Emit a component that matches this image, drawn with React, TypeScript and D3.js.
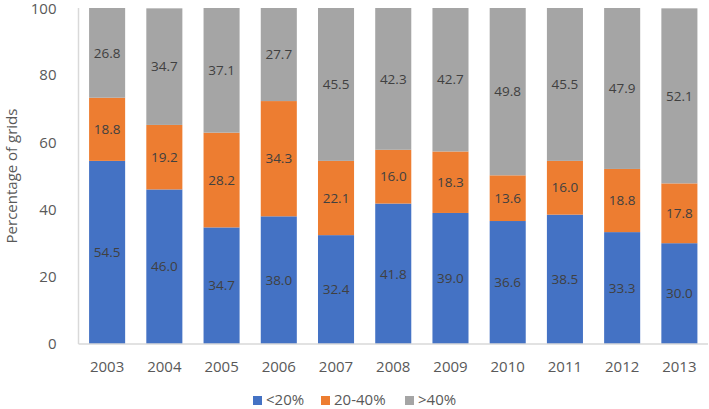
import React from "react";
import * as d3 from "d3";

const years = ["2003", "2004", "2005", "2006", "2007", "2008", "2009", "2010", "2011", "2012", "2013"];
const lowShare = [54.5, 46.0, 34.7, 38.0, 32.4, 41.8, 39.0, 36.6, 38.5, 33.3, 30.0];
const midShare = [18.8, 19.2, 28.2, 34.3, 22.1, 16.0, 18.3, 13.6, 16.0, 18.8, 17.8];
const highShare = [26.8, 34.7, 37.1, 27.7, 45.5, 42.3, 42.7, 49.8, 45.5, 47.9, 52.1];
const seriesNames = ["<20%", "20-40%", ">40%"];
const yTicks = [0, 20, 40, 60, 80, 100];

const colors = ["#4472C4", "#ED7D31", "#A5A5A5"];
const font = "'Open Sans', 'Noto Sans', sans-serif";

const W = 709;
const H = 409;
const margin = { top: 8, right: 1, bottom: 65, left: 78.5 };

const App: React.FC = () => {
  const rows = years.map((y, i) => ({ year: y, a: lowShare[i], b: midShare[i], c: highShare[i] }));
  const stack = d3.stack<any>().keys(["a", "b", "c"]);
  const layers = stack(rows);

  const x = d3
    .scaleBand()
    .domain(years)
    .range([margin.left, W - margin.right])
    .paddingInner(0.37)
    .paddingOuter(0.185);
  const y = d3.scaleLinear().domain([0, 100]).range([H - margin.bottom, margin.top]);

  const legendX = [253, 321, 405];

  return (
    <svg width={W} height={H} style={{ position: "absolute", left: 0, top: 0, background: "#fff" }}>
      {/* bars */}
      {layers.map((layer, li) => (
        <g key={li}>
          {layer.map((d, i) => {
            const y0 = y(Math.min(d[1], 100));
            const y1 = y(d[0]);
            const val = [lowShare, midShare, highShare][li][i];
            return (
              <g key={i}>
                <rect x={x(years[i])!} y={y0} width={x.bandwidth()} height={y1 - y0} fill={colors[li]} />
                <text
                  x={x(years[i])! + x.bandwidth() / 2}
                  y={(y0 + y1) / 2}
                  dy="0.35em"
                  textAnchor="middle"
                  fontFamily={font}
                  fontSize={13.5}
                  fill="#404040"
                >
                  {val.toFixed(1)}
                </text>
              </g>
            );
          })}
        </g>
      ))}

      {/* axes */}
      <line x1={margin.left} x2={margin.left} y1={margin.top} y2={y(0)} stroke="#D9D9D9" strokeWidth={1.5} />
      <line x1={margin.left} x2={W - margin.right} y1={y(0)} y2={y(0)} stroke="#D9D9D9" strokeWidth={1.5} />

      {yTicks.map((t) => (
        <text
          key={t}
          x={margin.left - 22}
          y={Math.max(y(t), 9)}
          dy="0.35em"
          textAnchor="end"
          fontFamily={font}
          fontSize={15}
          fill="#595959"
        >
          {t}
        </text>
      ))}

      {years.map((yr) => (
        <text
          key={yr}
          x={x(yr)! + x.bandwidth() / 2}
          y={367}
          dy="0.35em"
          textAnchor="middle"
          fontFamily={font}
          fontSize={15}
          fill="#595959"
        >
          {yr}
        </text>
      ))}

      <text
        transform={`translate(12,${(margin.top + y(0)) / 2}) rotate(-90)`}
        textAnchor="middle"
        dy="0.35em"
        fontFamily={font}
        fontSize={15}
        fill="#595959"
      >
        Percentage of grids
      </text>

      {/* legend */}
      {seriesNames.map((n, i) => (
        <g key={n}>
          <rect x={legendX[i]} y={396} width={9} height={9} fill={colors[i]} />
          <text x={legendX[i] + 13} y={400} dy="0.35em" fontFamily={font} fontSize={15} fill="#595959">
            {n}
          </text>
        </g>
      ))}
    </svg>
  );
};

export default App;
